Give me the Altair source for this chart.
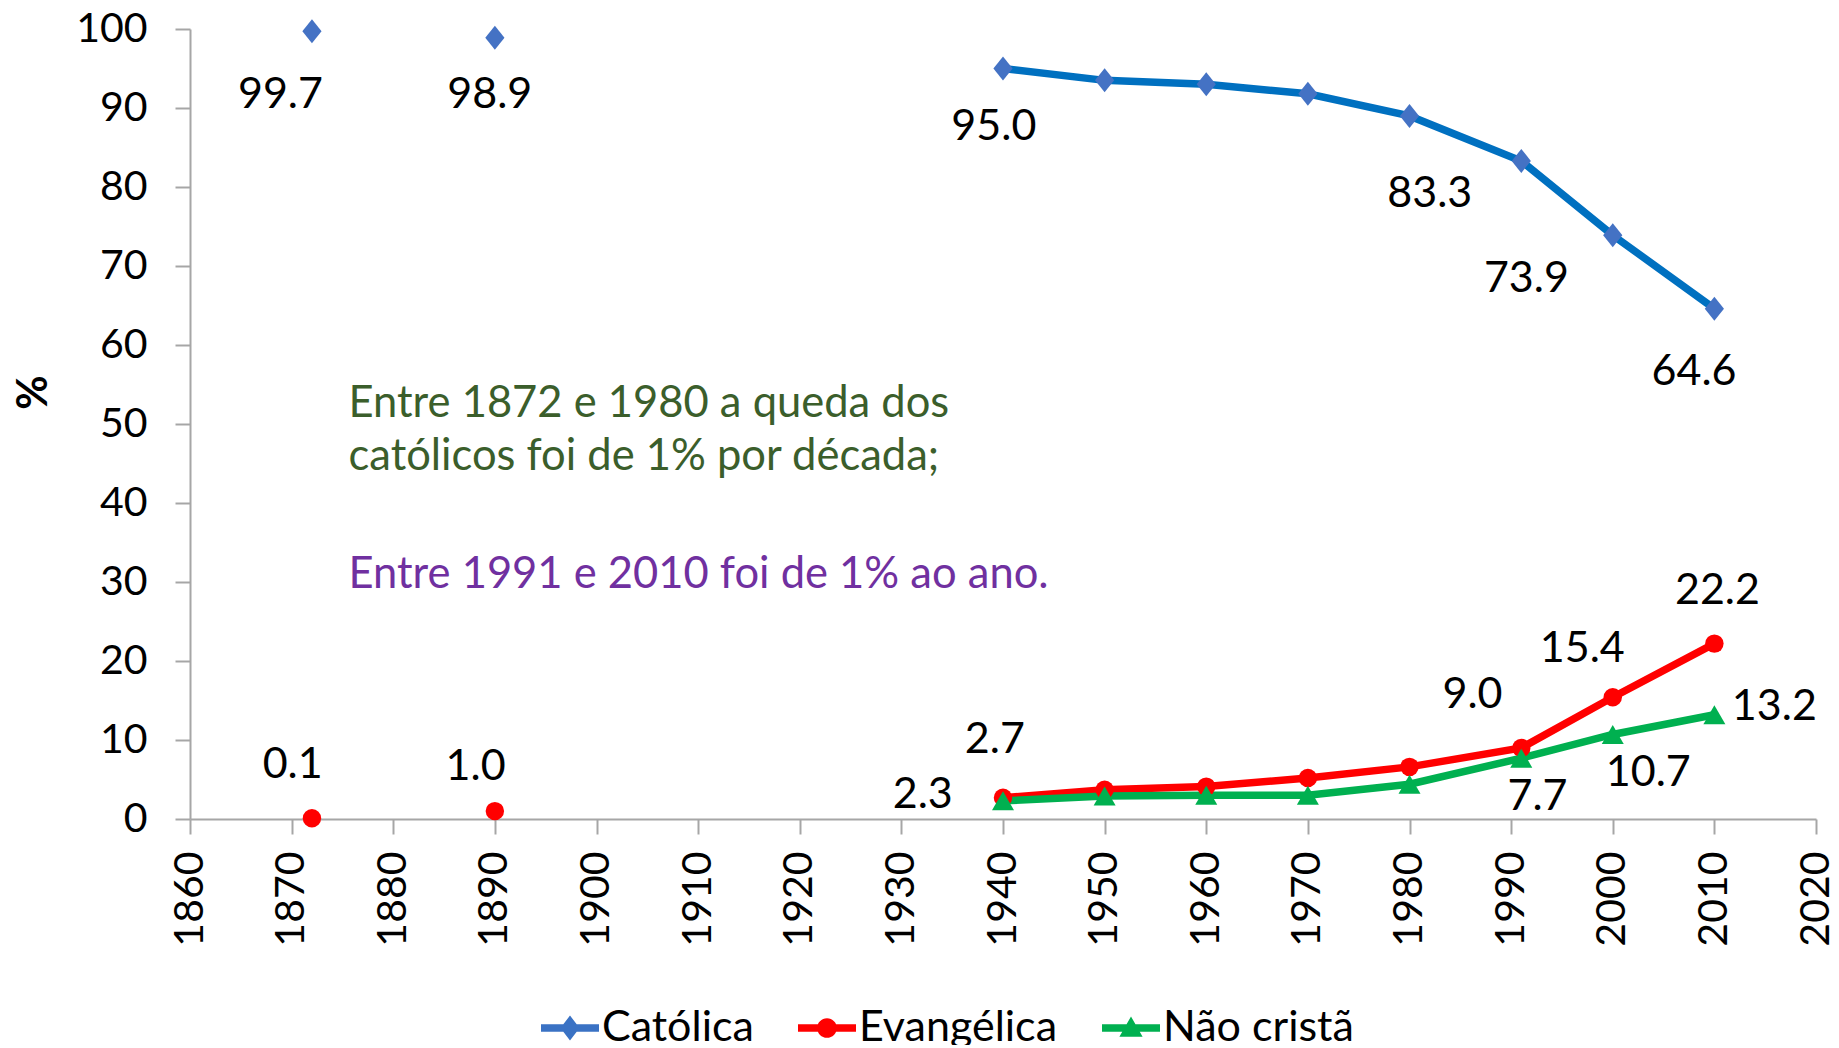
import altair as alt
import pandas as pd

# ---------------- data ----------------
anos = [1872, 1890, 1940, 1950, 1960, 1970, 1980, 1991, 2000, 2010]
catolica = [99.7, 98.9, 95.0, 93.5, 93.0, 91.8, 89.0, 83.3, 73.9, 64.6]
evangelica = [0.1, 1.0, 2.7, 3.7, 4.1, 5.2, 6.6, 9.0, 15.4, 22.2]
anos_nc = [1940, 1950, 1960, 1970, 1980, 1991, 2000, 2010]
nao_crista = [2.3, 2.9, 3.0, 3.0, 4.4, 7.7, 10.7, 13.2]

series = ["Católica", "Evangélica", "Não cristã"]
line_colors = ["#0070C0", "#FF0000", "#00B050"]
marker_colors = ["#4472C4", "#FF0000", "#00B050"]
legend_colors = ["#3A72C4", "#FF0000", "#00B050"]

# data labels (text and where they sit, in data units)
label_text = ["99.7", "98.9", "95.0", "83.3", "73.9", "64.6",
              "22.2", "15.4", "9.0", "13.2", "2.7", "10.7", "2.3", "7.7", "0.1", "1.0"]
label_x = [1868.9, 1889.5, 1939.1, 1982.0, 1991.5, 2008.0,
           2010.3, 1997.0, 1986.2, 2015.9, 1939.2, 2003.5, 1932.1, 1992.6, 1870.1, 1888.1]
label_y = [91.6, 91.6, 87.6, 79.1, 68.4, 56.6,
           28.9, 21.5, 15.7, 14.2, 10.0, 5.8, 3.0, 2.8, 6.8, 6.6]

# annotation text
note_lines = ["Entre 1872 e 1980 a queda dos",
              "católicos foi de 1% por década;",
              "Entre 1991 e 2010 foi de 1% ao ano."]
note_x = [1875.6, 1875.6, 1875.6]
note_y = [50.9, 44.2, 29.2]
note_colors = ["#3B5E2B", "#3B5E2B", "#7030A0"]

# ---------------- tables ----------------
rows = []
for a, v in zip(anos, catolica):
    rows.append({"serie": "Católica", "ano": a, "valor": v})
for a, v in zip(anos, evangelica):
    rows.append({"serie": "Evangélica", "ano": a, "valor": v})
for a, v in zip(anos_nc, nao_crista):
    rows.append({"serie": "Não cristã", "ano": a, "valor": v})
df = pd.DataFrame(rows)

labels = pd.DataFrame({"txt": label_text, "ano": label_x, "valor": label_y})
notes = pd.DataFrame({"txt": note_lines, "ano": note_x, "valor": note_y, "cor": note_colors})

FONT = "Lato"

x_enc = alt.X("ano:Q",
              scale=alt.Scale(domain=[1860, 2020], nice=False, zero=False),
              axis=alt.Axis(values=list(range(1860, 2021, 10)), format="d",
                            labelAngle=270, labelPadding=17, title=None))
y_enc = alt.Y("valor:Q",
              scale=alt.Scale(domain=[0, 100], nice=False),
              axis=alt.Axis(values=list(range(0, 101, 10)), labelPadding=28,
                            title="%", titleFont=FONT, titleFontSize=42,
                            titleFontWeight="bold", titleColor="black",
                            titleAngle=270, titleX=-157, titleY=363,
                            titleAlign="center", titleBaseline="middle"))

marker_shapes = ["M0,-1L0.8,0L0,1L-0.8,0Z", "circle", "triangle-up"]
marker_sizes = [576, 340, 484]

layers = []
for s, lc in zip(series, line_colors):
    layers.append(
        alt.Chart(df)
        .transform_filter(alt.datum.serie == s)
        .transform_filter(alt.datum.ano >= 1940)
        .mark_line(color=lc, strokeWidth=7.5)
        .encode(x=x_enc, y=y_enc)
    )
for s, mc, shp, sz in zip(series, marker_colors, marker_shapes, marker_sizes):
    layers.append(
        alt.Chart(df)
        .transform_filter(alt.datum.serie == s)
        .mark_point(filled=True, shape=shp, size=sz, color=mc, opacity=1)
        .encode(x=x_enc, y=y_enc)
    )

# legend-only layer (no data drawn), custom line+marker symbols
leg_paths = [
    "M-1,-0.13H1V0.13H-1Z M0,-0.43L0.33,0L0,0.43L-0.33,0Z",
    "M-1,-0.13H1V0.13H-1Z M-0.34,0A0.34,0.34 0 1,1 0.34,0A0.34,0.34 0 1,1 -0.34,0Z",
    "M-1,-0.13H1V0.13H-1Z M0,-0.4L0.4,0.3L-0.4,0.3Z",
]
leg = alt.Legend(orient="none", legendX=351, legendY=970, direction="horizontal",
                 title=None, labelFont=FONT, labelFontSize=43, labelColor="black",
                 symbolSize=3364, labelOffset=3, columnPadding=44, padding=0,
                 symbolStrokeWidth=0, symbolOpacity=1, labelLimit=500)
legend_layer = (
    alt.Chart(df).transform_filter(alt.datum.ano < 0)
    .mark_point(filled=True, opacity=1)
    .encode(
        x=x_enc, y=y_enc,
        color=alt.Color("serie:N", scale=alt.Scale(domain=series, range=legend_colors), legend=leg),
        shape=alt.Shape("serie:N", scale=alt.Scale(domain=series, range=leg_paths), legend=leg),
    )
)
layers.append(legend_layer)

label_layer = alt.Chart(labels).mark_text(
    font=FONT, fontSize=43, color="black", align="center", baseline="middle"
).encode(x=x_enc, y=y_enc, text="txt:N")
layers.append(label_layer)

note_layer = alt.Chart(notes).mark_text(
    font=FONT, fontSize=43.5, align="left", baseline="alphabetic"
).encode(x=x_enc, y=y_enc, text="txt:N", color=alt.Color("cor:N", scale=None))
layers.append(note_layer)

chart = (
    alt.layer(*layers)
    .properties(width=1626, height=790, background="white",
                autosize=alt.AutoSizeParams(type="none"),
                padding={"left": 182, "top": 21, "right": 15, "bottom": 226})
    .configure_axis(grid=False, domainColor="#A6A6A6", tickColor="#A6A6A6",
                    domainWidth=2, tickWidth=2, tickSize=15,
                    labelFont=FONT, labelFontSize=41, labelColor="black")
    .configure_view(stroke=None)
)

chart.save("out.html", embed_options={"renderer": "svg", "actions": False})
